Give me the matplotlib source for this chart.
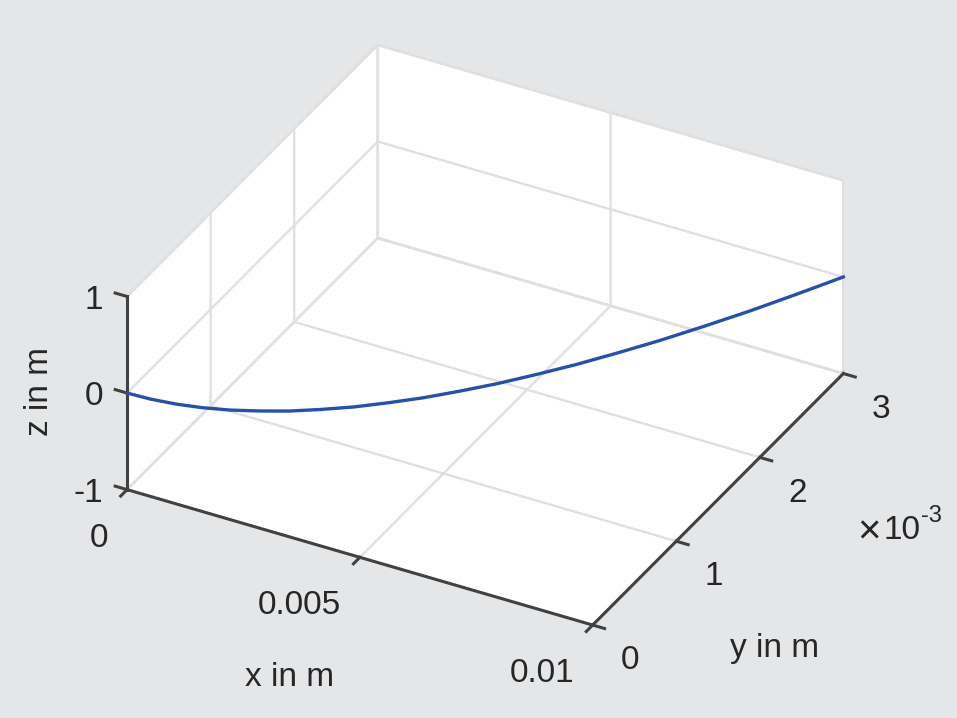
import matplotlib
matplotlib.use("Agg")
import matplotlib.pyplot as plt

# beam deflection curve (z stays at 0)
x_m = [0.0, 0.0005, 0.001, 0.0015, 0.002, 0.0025, 0.003, 0.0035, 0.004, 0.0045, 0.005,
       0.0055, 0.006, 0.0065, 0.007, 0.0075, 0.008, 0.0085, 0.009, 0.0095, 0.010]
y_m = [0.0, 0.0000075, 0.00003, 0.0000675, 0.00012, 0.00019, 0.00027, 0.00037, 0.00048,
       0.00061, 0.00075, 0.00091, 0.00108, 0.00127, 0.00147, 0.00169, 0.00192, 0.00217,
       0.00243, 0.00271, 0.0030]
z_m = [0.0] * len(x_m)

x_ticks = [0.0, 0.005, 0.01]
x_ticklabels = ["0", "0.005", "0.01"]
y_ticks = [0.0, 0.001, 0.002, 0.003]
y_ticklabels = ["0", "1", "2", "3"]
z_ticks = [-1, 0, 1]
z_ticklabels = ["-1", "0", "1"]

BG = "#e5e6e8"
GRID = "#e0e0e0"
AXIS = "#414141"
TEXT = "#262626"
LINE = "#2651a6"
FS = 24

plt.rcParams["font.family"] = ["Liberation Sans", "DejaVu Sans"]
for a in ("xtick", "ytick"):
    plt.rcParams[f"{a}.color"] = AXIS
    plt.rcParams[f"{a}.labelcolor"] = TEXT
    plt.rcParams[f"{a}.major.width"] = 2.2
    plt.rcParams[f"{a}.labelsize"] = FS

fig = plt.figure(figsize=(9.57, 7.18), dpi=100, facecolor=BG)
ax = fig.add_axes([0.1219, 0.0199, 0.750, 1.0], projection="3d", proj_type="ortho")
ax.set_facecolor(BG)

curve, = ax.plot(x_m, y_m, z_m, color=LINE, lw=2.4)
curve.set_clip_on(False)

ax.set_xlim(0, 0.01)
ax.set_ylim(0, 0.003)
ax.set_zlim(-1, 1)
ax.set_xticks(x_ticks)
ax.set_xticklabels(x_ticklabels)
ax.set_yticks(y_ticks)
ax.set_yticklabels(y_ticklabels)
ax.set_zticks(z_ticks)
ax.set_zticklabels(z_ticklabels)
ax.set_box_aspect((1, 1, 0.434), zoom=1.058)
ax.view_init(elev=32.7, azim=-61.7)

# z axis on the left edge, ticks pointing along -x like MATLAB
ax.zaxis.set_ticks_position("lower")
ax.zaxis._get_tickdir = lambda position: 0

for axis in (ax.xaxis, ax.yaxis, ax.zaxis):
    axis.set_pane_color((1, 1, 1, 1))
    axis.pane.set_edgecolor(GRID)
    axis.pane.set_linewidth(1.7)
    axis._axinfo["grid"].update(color=GRID, linewidth=1.7, linestyle="-")
    axis._axinfo["tick"]["linewidth"] = {True: 2.2, False: 1.0}
    axis.line.set_color(AXIS)
    axis.line.set_linewidth(2.2)
ax.xaxis._axinfo["tick"].update(inward_factor=0.32, outward_factor=0.0)
ax.yaxis._axinfo["tick"].update(inward_factor=0.32, outward_factor=0.0)
ax.zaxis._axinfo["tick"].update(inward_factor=0.0, outward_factor=0.32)

ax.tick_params(axis="x", pad=12, labelsize=FS, colors=AXIS, labelcolor=TEXT)
ax.tick_params(axis="y", pad=8.5, labelsize=FS, colors=AXIS, labelcolor=TEXT)
ax.tick_params(axis="z", pad=1.0, labelsize=FS, colors=AXIS, labelcolor=TEXT)
for lbl in ax.get_xticklabels():
    lbl.set_ha("right")
    lbl.set_va("top")
for lbl in ax.get_yticklabels():
    lbl.set_ha("left")
    lbl.set_va("top")
for lbl in ax.get_zticklabels():
    lbl.set_ha("right")
    lbl.set_va("center")

fig.text(290 / 957, 1 - 677 / 718, "x in m", fontsize=FS, color=TEXT, ha="center", va="center")
fig.text(775 / 957, 1 - 648 / 718, "y in m", fontsize=FS, color=TEXT, ha="center", va="center")
fig.text(40 / 957, 1 - 392 / 718, "z in m", fontsize=FS, color=TEXT, ha="center", va="center", rotation=90)

# y axis multiplier, written like MATLAB's "x10^-3"
fig.text(857 / 957, 1 - 543 / 718, "\u00d7", fontsize=29, color=TEXT, ha="left", va="baseline")
ten = fig.text(884 / 957, 1 - 539 / 718, "10", fontsize=FS, color=TEXT, ha="left", va="baseline")
ax.annotate("-3", xy=(1.0, 0.62), xycoords=ten, fontsize=17, color=TEXT,
            ha="left", va="bottom", annotation_clip=False)

fig.savefig("out.png", dpi=100, facecolor=BG)
